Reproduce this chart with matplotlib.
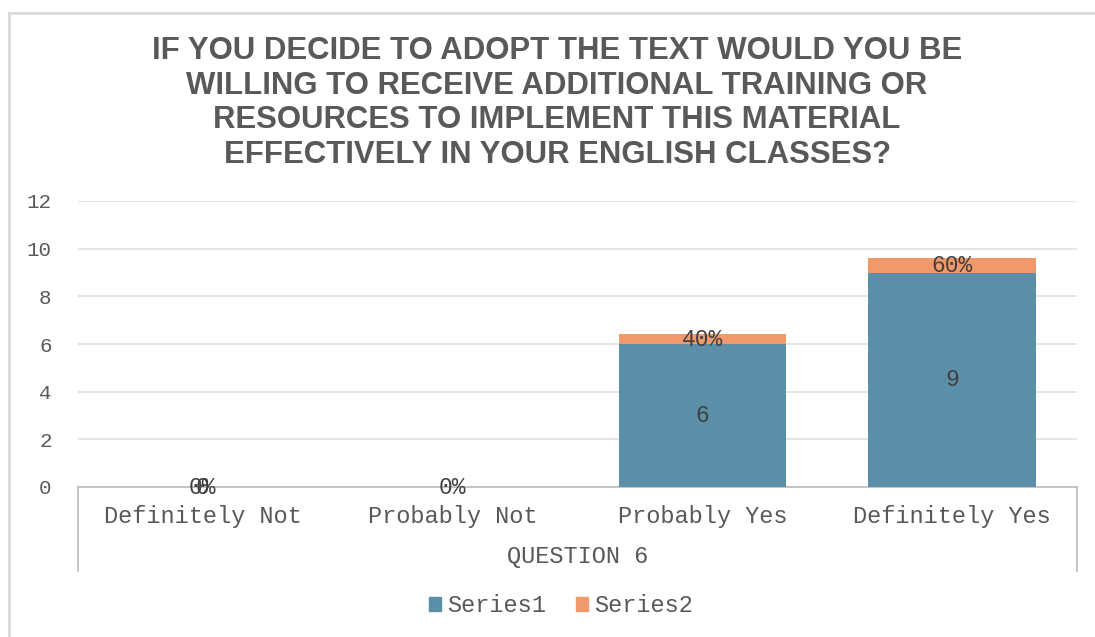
import numpy as np
import matplotlib.pyplot as plt
from matplotlib.lines import Line2D
from matplotlib.patches import Patch

categories = ['Definitely Not', 'Probably Not', 'Probably Yes', 'Definitely Yes']
series1 = [0, 0, 6, 9]
series2 = [0, 0, 0.4, 0.6]
labels1 = ['0', '', '6', '9']
labels2 = ['0%', '0%', '40%', '60%']
group_label = 'QUESTION 6'
title = ('IF YOU DECIDE TO ADOPT THE TEXT WOULD YOU BE\n'
         'WILLING TO RECEIVE ADDITIONAL TRAINING OR\n'
         'RESOURCES TO IMPLEMENT THIS MATERIAL\n'
         'EFFECTIVELY IN YOUR ENGLISH CLASSES?')

blue = '#5B8FA8'
orange = '#F0996B'
grey = '#595959'
mono = 'Liberation Mono'

fig = plt.figure(figsize=(10.95, 6.37), dpi=100)
W, H = 1095, 637

x0, x1 = 78, 1077
y_top, y_bot = 201, 487
ax = fig.add_axes([x0 / W, 1 - y_bot / H, (x1 - x0) / W, (y_bot - y_top) / H])

x = np.arange(len(categories))
b1 = ax.bar(x, series1, width=0.67, color=blue, zorder=3)
b2 = ax.bar(x, series2, width=0.67, bottom=series1, color=orange, zorder=3)

ax.bar_label(b1, labels=labels1, label_type='center', fontsize=16.5,
             color='#404040', family=mono, zorder=4)
ax.bar_label(b2, labels=labels2, label_type='center', fontsize=16.5,
             color='#404040', family=mono, zorder=4)

ax.set_xlim(-0.5, len(categories) - 0.5)
ax.set_ylim(0, 12)
ax.set_yticks(range(0, 13, 2))
ax.grid(axis='y', color='#e3e3e3', linewidth=1.3, zorder=0)
for s in ['top', 'right', 'left']:
    ax.spines[s].set_visible(False)
ax.spines['bottom'].set_color('#bfbfbf')
ax.spines['bottom'].set_linewidth(1.3)
ax.tick_params(axis='y', length=0, pad=19, labelsize=15, labelcolor=grey)
ax.tick_params(axis='x', length=0, pad=13, labelsize=17, labelcolor=grey)
ax.set_xticks(x)
ax.set_xticklabels(categories, family=mono)
for t in ax.get_yticklabels():
    t.set_family(mono)

# multi-level category box
box_depth = (571 - y_bot) / (y_bot - y_top)
for xx in (0, 1):
    ax.add_line(Line2D([xx, xx], [0, -box_depth], transform=ax.transAxes,
                       color='#bfbfbf', linewidth=1.3, clip_on=False))
ax.text(0.5, -(556 - y_bot) / (y_bot - y_top), group_label, transform=ax.transAxes,
        ha='center', va='center', fontsize=17, color=grey, family=mono)

fig.text(557 / W, 1 - 103 / H, title, ha='center', va='center', fontsize=22.4,
         fontweight='bold', color=grey, family='Liberation Sans', linespacing=1.2)

handles = [Patch(color=blue), Patch(color=orange)]
fig.legend(handles, ['Series1', 'Series2'], loc='center', bbox_to_anchor=(561 / W, 1 - 606 / H),
           ncol=2, frameon=False, prop={'family': mono, 'size': 17},
           handlelength=0.5, handleheight=0.5, handletextpad=0.25, columnspacing=1.3,
           labelcolor=grey)

# outer chart border (cropped at right and bottom)
fig.add_artist(Line2D([9 / W, 1], [1 - 13 / H, 1 - 13 / H], transform=fig.transFigure,
                      color='#d9d9d9', linewidth=2))
fig.add_artist(Line2D([9 / W, 9 / W], [0, 1 - 13 / H], transform=fig.transFigure,
                      color='#d9d9d9', linewidth=2))

fig.savefig('out.png', dpi=100)
